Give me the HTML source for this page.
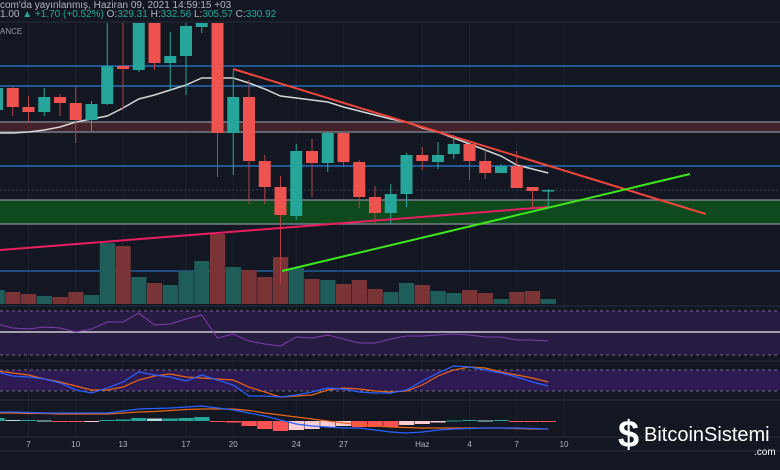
<!DOCTYPE html>
<html><head><meta charset="utf-8">
<style>
html,body{margin:0;padding:0;background:#131722;}
#wrap{position:relative;width:780px;height:470px;overflow:hidden;background:#131722;font-family:"Liberation Sans","Noto Sans CJK JP",sans-serif;}
.hdr{position:absolute;left:0;color:#b2b5be;font-size:10px;white-space:nowrap;}
.t{color:#26a69a}
#logo{position:absolute;left:618px;top:420px;color:#fff;}
</style></head>
<body>
<div id="wrap">
<svg id="svg" width="780" height="470"></svg>
<div class="hdr" style="top:0px">com'da yayınlanmış, Haziran 09, 2021 14:59:15 +03</div>
<div class="hdr" style="top:9px">1.00 <span class="t">▲</span> <span class="t">+1.70 (+0.52%)</span> O:<span class="t">329.31</span> H:<span class="t">332.56</span> L:<span class="t">305.57</span> C:<span class="t">330.92</span></div>
<div class="hdr" style="top:27px;font-size:8px;color:#9598a1">ANCE</div>
<div id="logo">
<span style="position:absolute;left:0;top:-6px;font-size:38px;font-weight:bold">$</span>
<span style="position:absolute;left:26px;top:4px;font-size:20px;letter-spacing:0px">BitcoinSistemi</span>
<span style="position:absolute;left:136px;top:27px;font-size:10px">.com</span>
</div>
</div>
<script>
const dates=["5","6","7","8","9","10","11","12","13","14","15","16","17","18","19","20","21","22","23","24","25","26","27","28","29","30","31","1","2","3","4","5","6","7","8","9"];
const opens=[451,484,455.5,448,470.5,461.5,436,460,517,511,590,521.5,532,575.5,600,416.5,470.5,374.5,335.5,292,389.5,371.5,416.5,373,320.5,296.5,325,383.5,373,385,400,374.5,356.5,367,335.5,329.31];
const highs=[490,485.5,472,484,475,485.5,464.5,600,600,620,610,568,600,610,620,511,496,383.5,352,400,407.5,419.5,416.5,376,337,340,386.5,395.5,403,413.5,400,391,370,389.5,335.5,332.56];
const lows=[448,442,433,442,442,401.5,419.5,458.5,451,508,511,481,473.5,566.5,350.5,353.5,310,310,191.5,286,320.5,358,365.5,304,280,280,305.5,361,362.5,377.5,346,347.5,356.5,334,304,305.57];
const closes=[484,455.5,448,470.5,461.5,436,460,517,512.5,590,521.5,532,577,600,416.5,470.5,374.5,335.5,293.5,389.5,371.5,416.5,373,320.5,296.5,325,383.5,374.5,383.5,400,374.5,356.5,367,334,329.5,330.92];
const volumes=[14,12,10,8,7,12,9,61,58,27,21,19,33,43,70,37,34,27,47,36,25,24,20,24,15,12,21,19,13,11,14,11,5,12,13,5];
const ma=[416.5,416.5,418,421,425.5,433,437.5,442,454,467.5,473.5,481,488.5,499,499,499,491.5,482.5,472,469,466,463,455.5,449.5,443.5,437.5,433,424,418,409,400,391,382,368.5,362.5,356.5];
const rsi=[58.2,54.5,53.6,55.5,54.5,50.9,53.6,60,60,68.2,57.3,58.2,62.7,66.4,45.5,49.1,42.7,40,38.2,46.4,45.5,48.2,44.5,40.9,40.9,44.5,47.3,47.3,48.2,49.1,48.2,46.4,46.4,43.6,43.6,42.7];
const stochK=[74.3,62.9,60,54.3,42.9,22.9,14.3,28.6,45.7,74.3,65.7,60,48.6,65.7,51.4,37.1,5.7,5.7,2.9,8.6,17.1,28.6,25.7,17.1,14.3,14.3,22.9,48.6,71.4,91.4,88.6,80,71.4,60,45.7,34.3];
const stochD=[77.1,71.4,65.7,54.3,45.7,34.3,22.9,22.9,31.4,51.4,62.9,68.6,60,57.1,54.3,51.4,31.4,17.1,2.9,5.7,8.6,22.9,28.6,25.7,20,17.1,20,37.1,62.9,80,88.6,85.7,74.3,65.7,57.1,45.7];
const macd=[9,9,8.5,8,8,8,8,8,10,12,12.5,13,14,15,13,11,8,5,1,-3,-5,-6,-7,-7,-9,-11,-12,-11,-9,-8,-7.5,-7,-7,-7,-7.5,-8];
const signal=[8,8,7.5,7.5,7,7,7,7,8,9,9.5,10.5,11.5,12,12,12,10.5,8,6,4,2,0,-2,-3.5,-5,-6,-6.5,-7,-7,-7,-7,-7,-7,-7.5,-8,-8];
const hist=[3,1,1,0.5,-1,-1,-0.5,1,1.5,3,2.5,2.5,3,4,-1,-1.5,-5,-8,-10,-9,-8,-6,-5,-6,-6,-6,-4,-3,-1.5,0.5,1,0.5,1,-0.5,-0.5,-0.5];
const hLevels=[517,487,367,331];
const hLevelColors=["#2a7fd8","#2a7fd8","#2a7fd8","#2a3a44"];
const resistBand=[433,418];
const supportBand=[316,280];
const volLevel=[33];
const trendRed=[[15,512.5],[45,295]];
const trendGreen=[[18.1,209.5],[44,355]];
const trendPink=[[0.19,241],[35,305.5]];
const tickLabels=["7","10","13","17","20","24","27","Haz","4","7","10"];
const tickIdx=[2,5,8,12,15,19,22,27,30,33,36];

const NS="http://www.w3.org/2000/svg";
const svg=document.getElementById('svg');
function el(tag,attrs,parent){const e=document.createElementNS(NS,tag);for(const k in attrs)e.setAttribute(k,attrs[k]);(parent||svg).appendChild(e);return e;}
const xS=i=>-3+i*15.75;
const yP=p=>190-(p-331)/1.5;
const yV=v=>304-v;
const yR=v=>311+(70-v)*1.1;
const yK=v=>370+(80-v)*0.35;
const yM=v=>421-v;

for(let i=0;i<tickIdx.length;i++){const g=el('line',{x1:xS(tickIdx[i]),x2:xS(tickIdx[i]),y1:23,y2:437,stroke:'#1c2030','stroke-width':1});

}
[22,306,361,400,437,451].forEach(y=>{const s=el('line',{x1:0,x2:780,y1:y,y2:y,stroke:'#2a2e39','stroke-width':1});

});

const defs=el('defs',{});
const cp=el('clipPath',{id:'mainclip'},defs);el('rect',{x:0,y:23,width:780,height:283},cp);
const main=el('g',{'clip-path':'url(#mainclip)'});



function band(b,fill,name){const r=el('rect',{x:0,y:yP(b[0]),width:780,height:yP(b[1])-yP(b[0]),fill:fill},main);


[b[0],b[1]].forEach(p=>el('line',{x1:0,x2:780,y1:yP(p),y2:yP(p),stroke:'#787b86','stroke-width':1.5},main));}
band(resistBand,'#43222a','resistance-zone');
band(supportBand,'#0e4a1e','support-zone');
hLevels.forEach((p,i)=>{const l=el('line',{x1:0,x2:780,y1:yP(p),y2:yP(p),stroke:hLevelColors[i],'stroke-width':1.2,'stroke-dasharray':i==3?'2,2':'none'},main);

});
const vl=el('line',{x1:0,x2:780,y1:yV(volLevel[0]),y2:yV(volLevel[0]),stroke:'#2a7fd8','stroke-width':1},main);



for(let i=0;i<volumes.length;i++){const up=closes[i]>=opens[i];
const b=el('rect',{x:xS(i)-7.5,y:yV(volumes[i]),width:15.2,height:volumes[i],fill:up?'#1f5d5a':'#7a3436'},main);

}

const maP=el('polyline',{points:ma.map((v,i)=>xS(i)+','+yP(v)).join(' '),fill:'none',stroke:'#d6d6d6','stroke-width':1.5},main);



for(let i=0;i<opens.length;i++){const up=closes[i]>=opens[i];const c=up?'#26a69a':'#ef5350';
const g=el('g',{},main);


el('line',{x1:xS(i),x2:xS(i),y1:yP(highs[i]),y2:yP(lows[i]),stroke:up?'#26a69a':'#b04447','stroke-width':1},g);
const top=yP(Math.max(opens[i],closes[i])),bot=yP(Math.min(opens[i],closes[i]));
el('rect',{x:xS(i)-6,y:top,width:12,height:Math.max(1.5,bot-top),fill:c},g);}

function tl(t,col,w,name){const l=el('line',{x1:xS(t[0][0]),y1:yP(t[0][1]),x2:xS(t[1][0]),y2:yP(t[1][1]),stroke:col,'stroke-width':w},main);

}
tl(trendPink,'#e91e63',2,'rising-support-trendline');
tl(trendRed,'#f0463c',2,'descending-resistance-trendline');
tl(trendGreen,'#3ee81a',2,'ascending-trendline');

const rb=el('rect',{x:0,y:yR(70),width:780,height:yR(30)-yR(70),fill:'#261b40'});


[70,30].forEach(v=>el('line',{x1:0,x2:780,y1:yR(v),y2:yR(v),stroke:'#6e6a80','stroke-dasharray':'3,3','stroke-width':1}));
const rm=el('line',{x1:0,x2:780,y1:332,y2:332,stroke:'#d0d0d0','stroke-width':1.5});


const rl=el('polyline',{points:rsi.map((v,i)=>xS(i)+','+yR(v)).join(' '),fill:'none',stroke:'#7e3fb0','stroke-width':1});



const sb=el('rect',{x:0,y:yK(80),width:780,height:yK(20)-yK(80),fill:'#2e1a52'});


[80,20].forEach(v=>el('line',{x1:0,x2:780,y1:yK(v),y2:yK(v),stroke:'#6e6a80','stroke-dasharray':'3,3','stroke-width':1}));
const sd=el('polyline',{points:stochD.map((v,i)=>xS(i)+','+yK(v)).join(' '),fill:'none',stroke:'#e8661a','stroke-width':1.2});


const sk=el('polyline',{points:stochK.map((v,i)=>xS(i)+','+yK(v)).join(' '),fill:'none',stroke:'#2962ff','stroke-width':1.2});



for(let i=0;i<hist.length;i++){const h=hist[i],p=i?hist[i-1]:0;
let col=h>=0?(h>=p?'#26a69a':'#b2dfdb'):(h<=p?'#ff5252':'#ffcdd2');
const y0=Math.min(yM(0),yM(h)),hh=Math.max(1,Math.abs(yM(h)-yM(0)));
const b=el('rect',{x:xS(i)-7.5,y:y0,width:15.2,height:hh,fill:col});

}
const ms=el('polyline',{points:signal.map((v,i)=>xS(i)+','+yM(v)).join(' '),fill:'none',stroke:'#e8661a','stroke-width':1.2});


const ml=el('polyline',{points:macd.map((v,i)=>xS(i)+','+yM(v)).join(' '),fill:'none',stroke:'#2962ff','stroke-width':1.2});



for(let i=0;i<tickLabels.length;i++){const t=el('text',{x:xS(tickIdx[i]),y:447,fill:'#b2b5be','font-size':8,'text-anchor':'middle','font-family':'Liberation Sans, sans-serif'});
t.textContent=tickLabels[i];

}
</script>
</body></html>
